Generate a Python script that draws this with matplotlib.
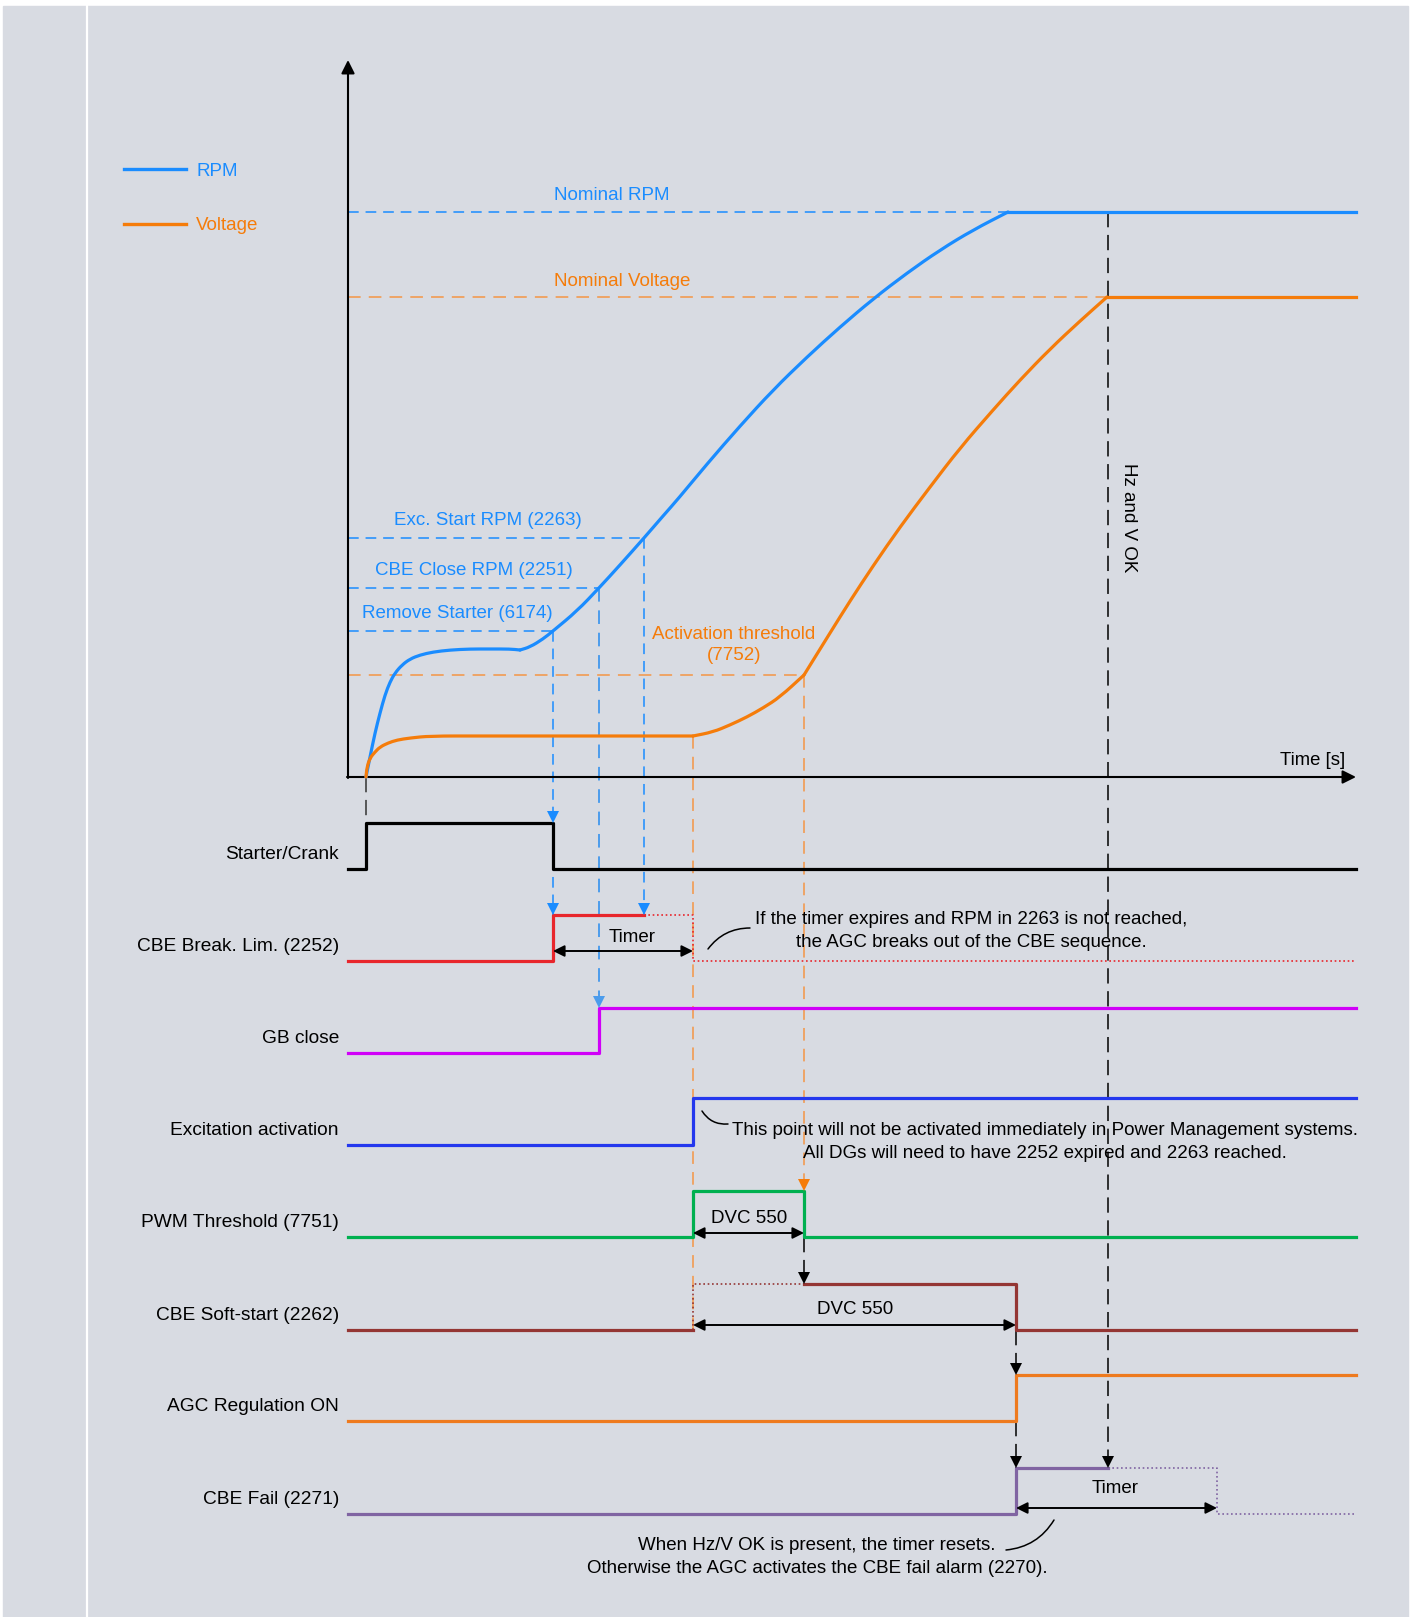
import matplotlib
matplotlib.use("Agg")
import matplotlib.pyplot as plt
from matplotlib.patches import Rectangle, Polygon, PathPatch
from matplotlib.path import Path

plt.rcParams['font.family'] = ['Liberation Sans', 'DejaVu Sans']

# ---------------- data (drawing units = pixels of the 1413x1617 canvas) ----------------
# time axis
x_axis0, x_end, y_axis0 = 348, 1356, 777

# event times along the time axis
t_crank = 366        # crank start
t_rem_starter = 553  # Remove Starter (6174) reached
t_cbe_close = 599    # CBE Close RPM (2251) reached
t_exc_start = 644    # Exc. Start RPM (2263) reached
t_timer = 693        # 2252 timer expires / excitation on
t_act = 804          # Activation threshold (7752) reached
t_nom_rpm = 1008     # nominal RPM reached
t_softstart = 1016   # soft-start DVC 550 ends
t_hzv_ok = 1108      # Hz and V OK
t_fail_timer = 1217  # CBE fail timer end

# threshold levels (vertical positions)
lvl_nom_rpm = 212
lvl_nom_v = 297
lvl_exc_start = 538
lvl_cbe_close = 588
lvl_rem_starter = 631
lvl_act = 675
lvl_volt_plateau = 736

# RPM curve (start-up hump, then run-up to nominal)
rpm_start_x = [366, 370, 375, 380, 385, 390, 395, 402, 410, 420, 433, 450, 470, 490, 510, 520]
rpm_start_y = [777, 757, 733, 713, 695, 682, 673, 665, 659, 655, 652, 650, 649, 649, 649, 650]
rpm_rise_x = [520, 530, 543, 553, 577, 599, 620, 644, 663, 678, 707, 740, 773, 807, 840, 873,
              907, 940, 973, 1008]
rpm_rise_y = [650, 647, 639, 631, 611, 588, 565, 538, 516, 499, 464, 426, 390, 357, 327, 299,
              273, 250, 230, 212]

# voltage curve
volt_start_x = [366, 367, 370, 375, 380, 388, 397, 410, 430, 480, 693]
volt_start_y = [777, 767, 758, 752, 747, 743, 740, 738, 736, 736, 736]
volt_rise_x = [693, 713, 730, 747, 763, 780, 804]
volt_rise_y = [736, 732, 725, 717, 708, 697, 675]
volt_up_x = [804, 830, 850, 873, 900, 930, 960, 993, 1020, 1050, 1080, 1107]
volt_up_y = [675, 633, 601, 566, 527, 487, 448, 410, 380, 349, 321, 297]

# digital signals
sig_names = ["Starter/Crank", "CBE Break. Lim. (2252)", "GB close", "Excitation activation",
             "PWM Threshold (7751)", "CBE Soft-start (2262)", "AGC Regulation ON", "CBE Fail (2271)"]
sig_low = [869, 961, 1053, 1145, 1237, 1330, 1421, 1514]
sig_high = [823, 915, 1008, 1098, 1191, 1284, 1375, 1468]
sig_colors = ["#000000", "#E8262C", "#D000F8", "#2438EE", "#00B050", "#943634", "#EE7A1E", "#8064A2"]
# toggle times of each trace (for the plain ones)
sig_toggles = [[t_crank, t_rem_starter], [t_rem_starter], [t_cbe_close], [t_timer],
               [t_timer, t_act], [t_softstart], [t_softstart], [t_softstart]]

BG = "#D8DBE2"
RPM_C = "#1A8CFF"
VOLT_C = "#F57C0A"
VOLT_DASH = "#F0A05C"

# ---------------- figure ----------------
fig = plt.figure(figsize=(14.13, 16.17), dpi=100)
fig.patch.set_facecolor("white")
ax = fig.add_axes([0, 0, 1, 1])
ax.set_xlim(0, 1413)
ax.set_ylim(1617, 0)
ax.axis("off")

ax.add_patch(Rectangle((3, 6), 1405, 1611, color=BG, zorder=0))
ax.plot([87, 87], [6, 1617], color="white", lw=1.6, zorder=1)

DASH_K = (0, (10, 5))
DASH_C = (0, (7, 4.5))
DOT = (0, (1, 1.6))


def head(x, y, color, w=6, h=12):
    ax.add_patch(Polygon([(x - w, y - h), (x + w, y - h), (x, y)], closed=True,
                         color=color, lw=0, zorder=6))


def vdash(x, y1, y2, color, ls=DASH_C, lw=1.1, arrows=()):
    ax.plot([x, x], [y1, y2], color=color, lw=lw, ls=ls, zorder=3)
    for ya in arrows:
        head(x, ya, color)


def smooth(xs, ys, color):
    # quadratic bezier through the read points (points act as control points)
    pts = list(zip(xs, ys))
    verts = [pts[0]]
    codes = [Path.MOVETO]
    mid = lambda a, b: ((a[0] + b[0]) / 2, (a[1] + b[1]) / 2)
    verts.append(mid(pts[0], pts[1]))
    codes.append(Path.LINETO)
    for i in range(1, len(pts) - 1):
        verts += [pts[i], mid(pts[i], pts[i + 1])]
        codes += [Path.CURVE3, Path.CURVE3]
    verts.append(pts[-1])
    codes.append(Path.LINETO)
    ax.add_patch(PathPatch(Path(verts, codes), fill=False, edgecolor=color, lw=2.3,
                           capstyle="round", joinstyle="round", zorder=4))


def step(xs_toggle, x0, x1, low, high, start_low=True):
    xs, ys = [x0], [low if start_low else high]
    state = start_low
    for t in xs_toggle:
        xs += [t, t]
        ys += [ys[-1], high if state else low]
        state = not state
    xs.append(x1)
    ys.append(ys[-1])
    return xs, ys


# axes with arrows
ax.annotate("", xy=(x_axis0, 60), xytext=(x_axis0, y_axis0 + 1),
            arrowprops=dict(arrowstyle="-|>", color="black", lw=1.5, mutation_scale=20,
                            shrinkA=0, shrinkB=0), zorder=4)
ax.annotate("", xy=(1356, y_axis0), xytext=(x_axis0 - 1, y_axis0),
            arrowprops=dict(arrowstyle="-|>", color="black", lw=1.5, mutation_scale=20,
                            shrinkA=0, shrinkB=0), zorder=4)
ax.text(1313, 760, "Time [s]", ha="center", va="center", fontsize=13.3)

# legend
ax.plot([124, 186], [169, 169], color=RPM_C, lw=2.4)
ax.plot([124, 186], [224, 224], color=VOLT_C, lw=2.4)
ax.text(196, 171, "RPM", color=RPM_C, ha="left", va="center", fontsize=13.5)
ax.text(196, 226, "Voltage", color=VOLT_C, ha="left", va="center", fontsize=13.5)

# horizontal threshold lines + labels
ax.plot([x_axis0, t_nom_rpm], [lvl_nom_rpm] * 2, color=RPM_C, lw=1.1, ls=DASH_C, zorder=2)
ax.plot([x_axis0, t_hzv_ok], [lvl_nom_v] * 2, color=VOLT_DASH, lw=1.3, ls=DASH_C, zorder=2)
ax.plot([x_axis0, t_exc_start], [lvl_exc_start] * 2, color=RPM_C, lw=1.1, ls=DASH_C, zorder=2)
ax.plot([x_axis0, t_cbe_close], [lvl_cbe_close] * 2, color=RPM_C, lw=1.1, ls=DASH_C, zorder=2)
ax.plot([x_axis0, t_rem_starter], [lvl_rem_starter] * 2, color=RPM_C, lw=1.1, ls=DASH_C, zorder=2)
ax.plot([x_axis0, t_act], [lvl_act] * 2, color=VOLT_DASH, lw=1.3, ls=DASH_C, zorder=2)

ax.text(612, 196, "Nominal RPM", color=RPM_C, ha="center", va="center", fontsize=13.5)
ax.text(622, 282, "Nominal Voltage", color=VOLT_C, ha="center", va="center", fontsize=13.5)
ax.text(488, 520, "Exc. Start RPM (2263)", color=RPM_C, ha="center", va="center", fontsize=13.5)
ax.text(474, 570, "CBE Close RPM (2251)", color=RPM_C, ha="center", va="center", fontsize=13.5)
ax.text(457, 613, "Remove Starter (6174)", color=RPM_C, ha="center", va="center", fontsize=13.5)
ax.text(734, 645, "Activation threshold\n(7752)", color=VOLT_C, ha="center", va="center",
        fontsize=13.5, linespacing=1.3)

# curves
smooth(rpm_start_x, rpm_start_y, RPM_C)
smooth(rpm_rise_x, rpm_rise_y, RPM_C)
ax.plot([t_nom_rpm, x_end], [lvl_nom_rpm] * 2, color=RPM_C, lw=2.3, zorder=4)
smooth(volt_start_x, volt_start_y, VOLT_C)
smooth(volt_rise_x, volt_rise_y, VOLT_C)
smooth(volt_up_x, volt_up_y, VOLT_C)
ax.plot([t_hzv_ok - 1, x_end], [lvl_nom_v] * 2, color=VOLT_C, lw=2.3, zorder=4)

# vertical dependency lines
vdash(t_crank, y_axis0, sig_high[0], "#333333", ls=DASH_K)
vdash(t_rem_starter, lvl_rem_starter, sig_high[1], RPM_C, arrows=(sig_high[0], sig_high[1]))
vdash(t_cbe_close, lvl_cbe_close, sig_high[2], "#4C9CEC", lw=1.4, arrows=(sig_high[2],))
vdash(t_exc_start, lvl_exc_start, sig_high[1], RPM_C, arrows=(sig_high[1],))
vdash(t_timer, lvl_volt_plateau, sig_low[5], VOLT_DASH, lw=1.3)
vdash(t_act, lvl_act, sig_high[4], VOLT_DASH, lw=1.3)
head(t_act, sig_high[4], VOLT_C)
vdash(t_act, sig_low[4], sig_high[5], "black", ls=DASH_K, arrows=(sig_high[5],))
vdash(t_softstart, sig_low[5], sig_high[6], "black", ls=DASH_K, arrows=(sig_high[6],))
vdash(t_softstart, sig_low[6], sig_high[7], "black", ls=DASH_K, arrows=(sig_high[7],))
vdash(t_hzv_ok, lvl_nom_rpm, sig_high[7], "black", ls=DASH_K, arrows=(sig_high[7],))
ax.text(1128, 518, "Hz and V OK", rotation=270, ha="center", va="center", fontsize=13.5)

# signal traces
for i, name in enumerate(sig_names):
    lo, hi, c = sig_low[i], sig_high[i], sig_colors[i]
    if i == 1:
        xs, ys = step([t_rem_starter], x_axis0, t_exc_start, lo, hi)
        ax.plot(xs, ys, color=c, lw=2.3, zorder=4)
        xs, ys = step([t_timer], t_exc_start, x_end, lo, hi, start_low=False)
        ax.plot(xs, ys, color=c, lw=1.2, ls=DOT, zorder=4)
    elif i == 5:
        ax.plot([x_axis0, t_timer], [lo, lo], color=c, lw=2.3, zorder=4)
        ax.plot([t_timer, t_timer, t_act], [lo, hi, hi], color=c, lw=1.2, ls=DOT, zorder=4)
        xs, ys = step([t_softstart], t_act, x_end, lo, hi, start_low=False)
        ax.plot(xs, ys, color=c, lw=2.3, zorder=4)
    elif i == 7:
        xs, ys = step([t_softstart], x_axis0, t_hzv_ok, lo, hi)
        ax.plot(xs, ys, color=c, lw=2.3, zorder=4)
        xs, ys = step([t_fail_timer], t_hzv_ok, x_end, lo, hi, start_low=False)
        ax.plot(xs, ys, color=c, lw=1.2, ls=DOT, zorder=4)
    else:
        xs, ys = step(sig_toggles[i], x_axis0, x_end, lo, hi)
        ax.plot(xs, ys, color=c, lw=2.3, zorder=4)
    ax.text(339, lo - 15, name, ha="right", va="center", fontsize=13.8)

# timer / DVC spans
arrow_kw = dict(arrowstyle="<|-|>", color="black", lw=1.4, mutation_scale=17, shrinkA=0, shrinkB=0)
ax.annotate("", xy=(t_timer, 951), xytext=(t_rem_starter, 951), arrowprops=arrow_kw, zorder=5)
ax.text(632, 937, "Timer", ha="center", va="center", fontsize=13.5)
ax.annotate("", xy=(t_act, 1233), xytext=(t_timer, 1233), arrowprops=arrow_kw, zorder=5)
ax.text(749, 1218, "DVC 550", ha="center", va="center", fontsize=13.5)
ax.annotate("", xy=(t_softstart, 1325), xytext=(t_timer, 1325), arrowprops=arrow_kw, zorder=5)
ax.text(855, 1309, "DVC 550", ha="center", va="center", fontsize=13.5)
ax.annotate("", xy=(t_fail_timer, 1508), xytext=(t_softstart, 1508), arrowprops=arrow_kw, zorder=5)
ax.text(1115, 1488, "Timer", ha="center", va="center", fontsize=13.5)

# notes with curved leaders
lead = dict(arrowstyle="-", color="black", lw=1.1, shrinkA=0, shrinkB=0)
ax.text(971, 931, "If the timer expires and RPM in 2263 is not reached,\nthe AGC breaks out of the CBE sequence.",
        ha="center", va="center", fontsize=13.5, linespacing=1.4)
ax.annotate("", xy=(750, 928), xytext=(708, 949),
            arrowprops=dict(lead, connectionstyle="arc3,rad=-0.25"))
ax.text(1045, 1142, "This point will not be activated immediately in Power Management systems.\n"
        "All DGs will need to have 2252 expired and 2263 reached.",
        ha="center", va="center", fontsize=13.5, linespacing=1.4)
ax.annotate("", xy=(728, 1124), xytext=(702, 1111),
            arrowprops=dict(lead, connectionstyle="arc3,rad=0.3"))
ax.text(817, 1557, "When Hz/V OK is present, the timer resets.\n"
        "Otherwise the AGC activates the CBE fail alarm (2270).",
        ha="center", va="center", fontsize=13.5, linespacing=1.4)
ax.annotate("", xy=(1054, 1520), xytext=(1006, 1550),
            arrowprops=dict(lead, connectionstyle="arc3,rad=0.25"))

fig.savefig("out.png", dpi=100, facecolor=fig.get_facecolor())
